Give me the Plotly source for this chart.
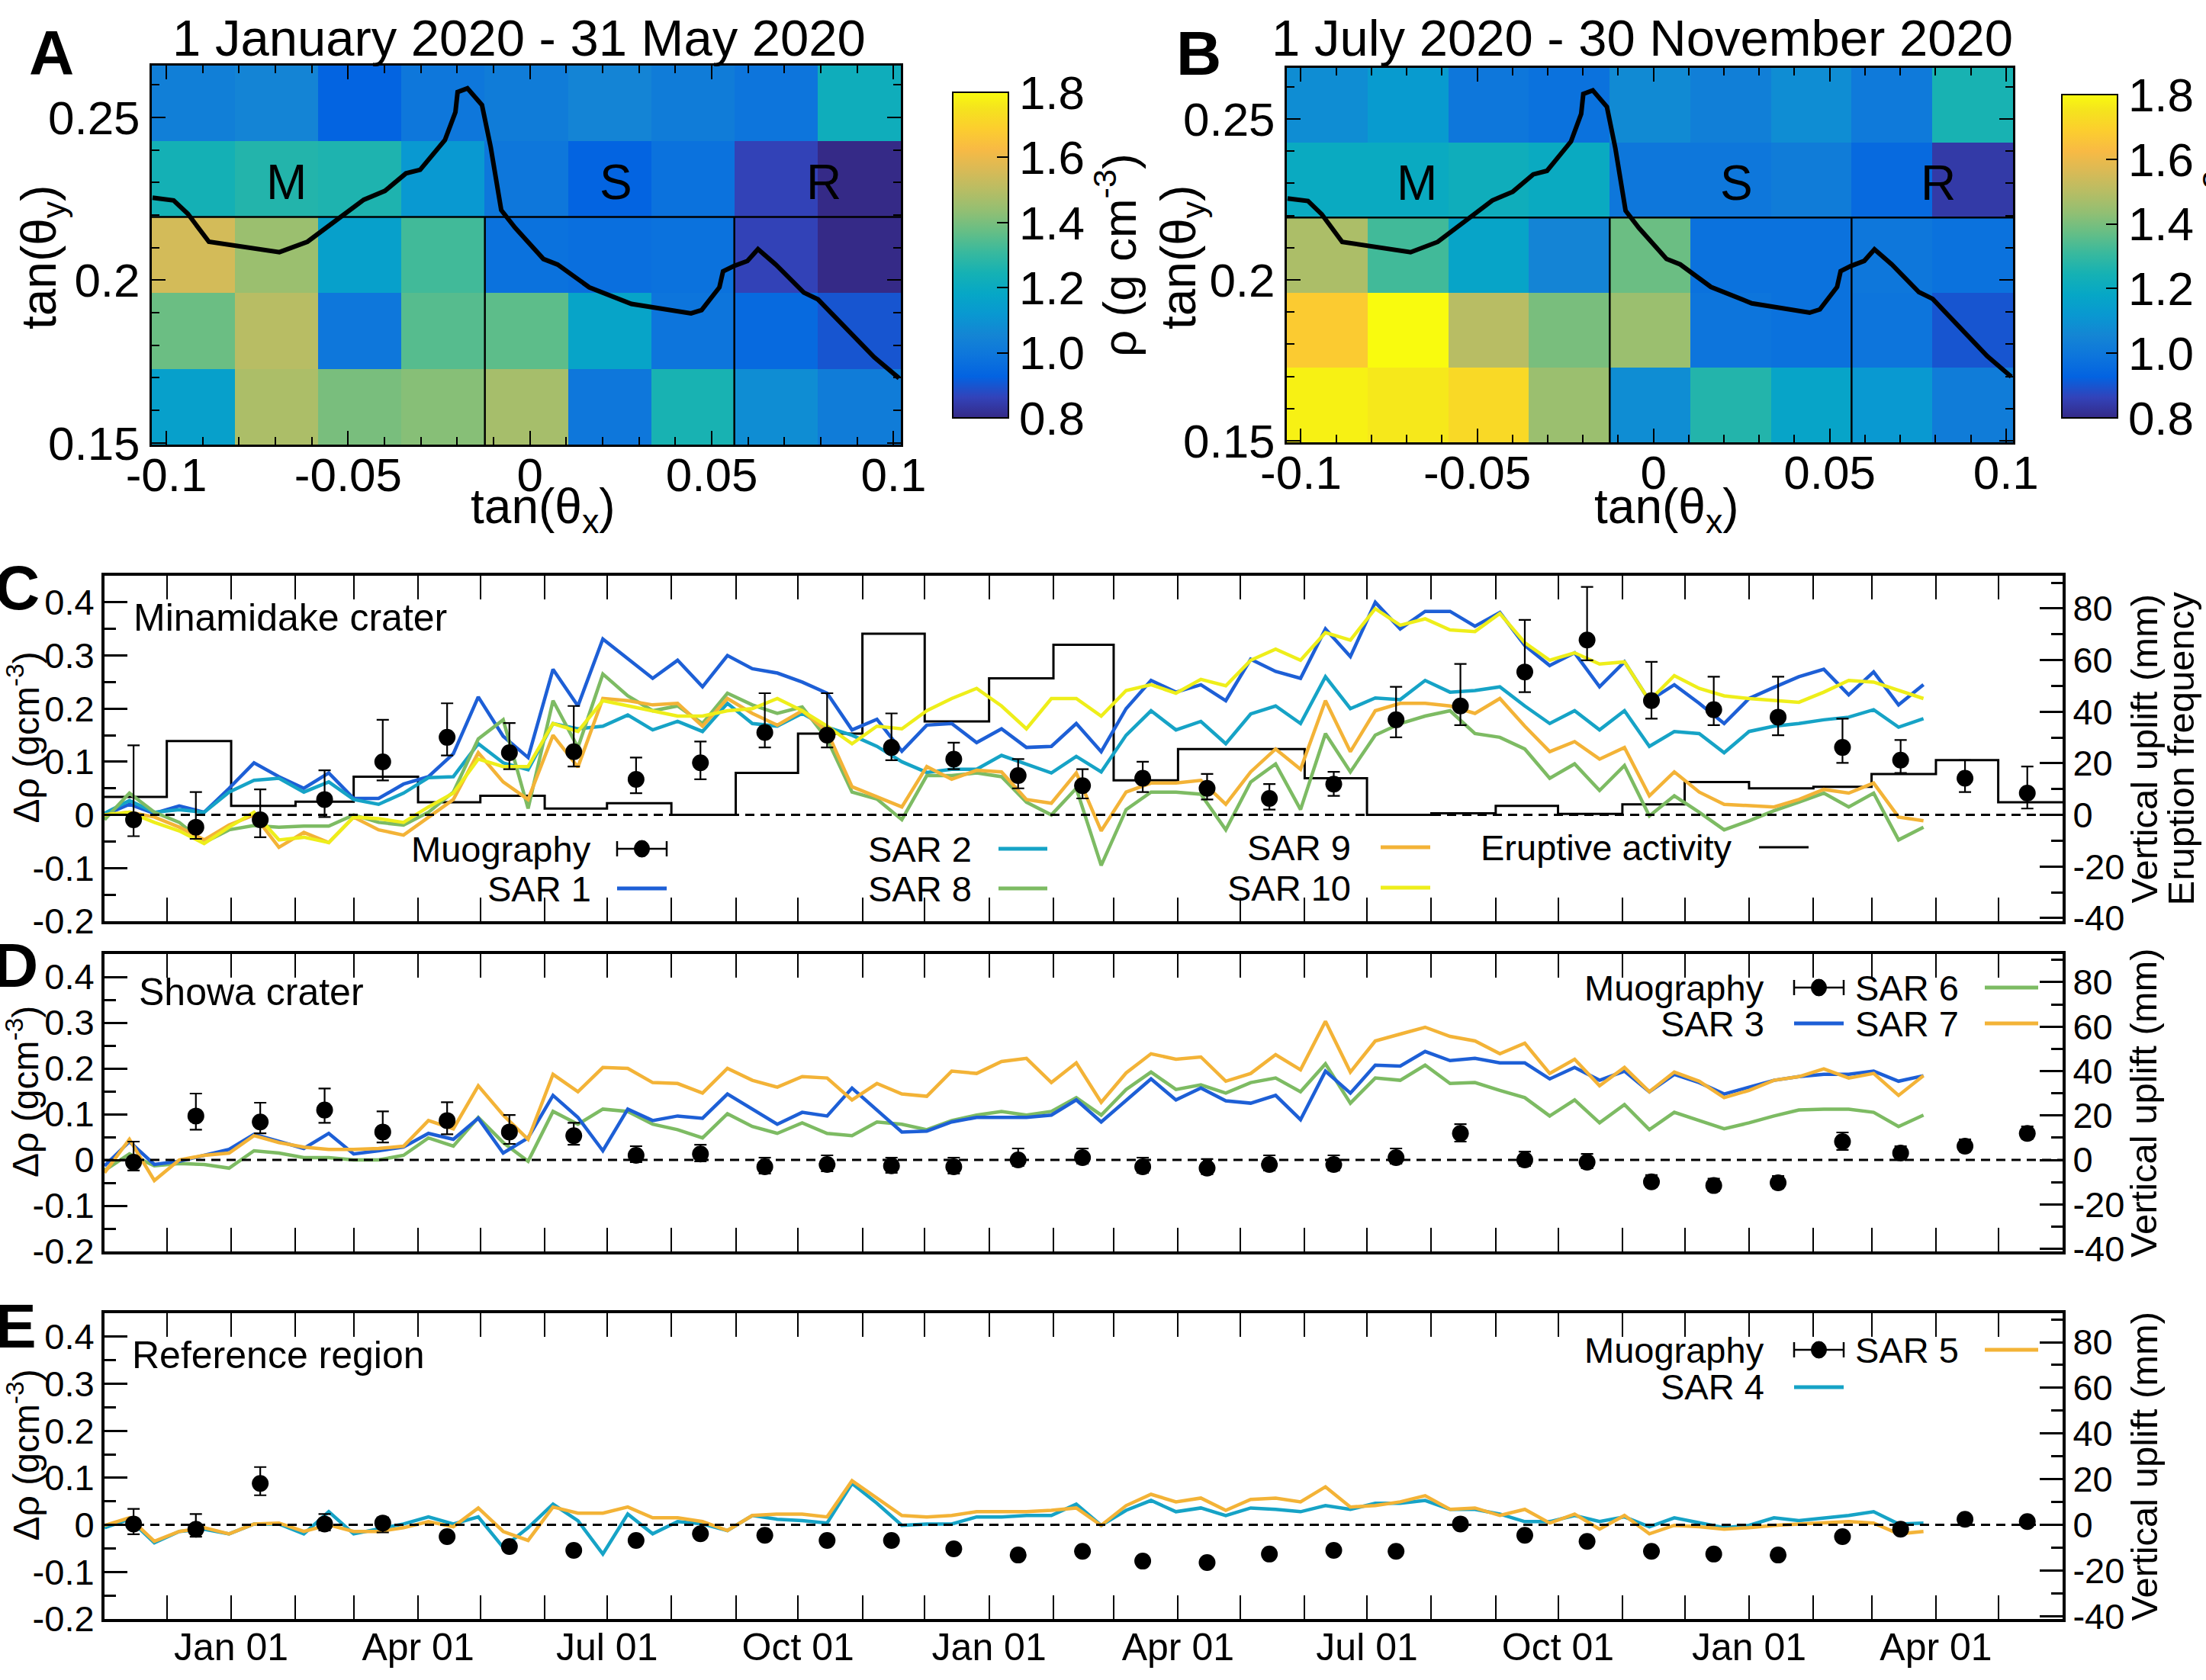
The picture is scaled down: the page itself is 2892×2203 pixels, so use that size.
import numpy as np
import pandas as pd
import plotly.graph_objects as go

W, H = 2892, 2203
FONT = "Liberation Sans, Arial, Helvetica, sans-serif"

# ---------------- Panels A / B : density maps ----------------
tanx_edges = [-0.104, -0.0811, -0.0582, -0.0353, -0.0124, 0.0104, 0.0333, 0.0562, 0.0791, 0.102]
tany_edges = [0.1495, 0.1728, 0.1961, 0.2194, 0.2426, 0.2659]
# rows listed from bottom (low tan(theta_y)) to top
rho_A = [
    [1.15, 1.48, 1.40, 1.42, 1.47, 1.00, 1.25, 1.08, 1.02],
    [1.38, 1.50, 1.00, 1.35, 1.36, 1.17, 0.99, 0.95, 0.90],
    [1.55, 1.45, 1.15, 1.32, 0.98, 0.97, 0.98, 0.86, 0.80],
    [1.24, 1.27, 1.26, 1.12, 1.00, 0.93, 0.98, 0.86, 0.80],
    [1.03, 1.05, 0.93, 1.00, 1.02, 1.05, 1.02, 0.99, 1.22],
]
rho_B = [
    [1.78, 1.76, 1.72, 1.45, 1.08, 1.27, 1.17, 1.12, 1.02],
    [1.68, 1.80, 1.50, 1.40, 1.45, 0.99, 0.98, 0.99, 0.90],
    [1.48, 1.32, 1.17, 1.05, 1.38, 0.98, 0.98, 1.00, 0.98],
    [1.20, 1.20, 1.22, 1.20, 1.00, 1.00, 1.02, 0.95, 0.84],
    [1.08, 1.13, 1.00, 0.98, 1.07, 1.03, 1.08, 1.01, 1.25],
]
topo_x = [-0.1038, -0.098, -0.0941, -0.0883, -0.0689, -0.0612, -0.0534, -0.0457, -0.0399, -0.0341,
          -0.0302, -0.0234, -0.0205, -0.0199, -0.0172, -0.0132, -0.0108, -0.0079, -0.0041, 0.0037,
          0.0076, 0.0163, 0.0279, 0.0443, 0.0472, 0.0521, 0.0531, 0.056, 0.0598, 0.0627,
          0.0676, 0.0753, 0.0792, 0.0889, 0.0947, 0.1015]
topo_y = [0.2253, 0.2245, 0.2204, 0.2118, 0.2086, 0.2118, 0.2183, 0.2247, 0.2274, 0.2328,
          0.2339, 0.2430, 0.2516, 0.2578, 0.2589, 0.2538, 0.2409, 0.2215, 0.2161, 0.2065,
          0.2048, 0.1978, 0.1927, 0.1898, 0.1908, 0.1978, 0.2027, 0.2043, 0.2059, 0.2095,
          0.2048, 0.1962, 0.1941, 0.1828, 0.1763, 0.1699]
region_names = ["M", "S", "R"]
region_x = [-0.067, 0.0236, 0.0808]
region_y = [0.230, 0.230, 0.230]
map_titles = ["1 January 2020 - 31 May 2020", "1 July 2020 - 30 November 2020"]
cbar_ticks = [0.8, 1.0, 1.2, 1.4, 1.6, 1.8]
cbar_text = ["0.8", "1.0", "1.2", "1.4", "1.6", "1.8"]

# ---------------- Panels C / D / E : time series ----------------
sar_dates = pd.date_range("2018-11-01", periods=74, freq="12D")
mu_dates = pd.date_range("2018-11-01", periods=31, freq="MS") + pd.Timedelta(days=14)
erupt_edges = pd.date_range("2018-11-01", periods=32, freq="MS")

sar1 = [0.0, 0.02, 0.003, 0.017, 0.005, 0.05, 0.098, 0.072, 0.05, 0.079, 0.031, 0.031, 0.058, 0.072, 0.115,
        0.222, 0.148, 0.108, 0.274, 0.205, 0.331, 0.295, 0.257, 0.291, 0.241, 0.30, 0.275, 0.267, 0.25, 0.229,
        0.16, 0.18, 0.12, 0.169, 0.172, 0.136, 0.162, 0.127, 0.129, 0.172, 0.119, 0.2, 0.253, 0.231, 0.245,
        0.215, 0.293, 0.27, 0.257, 0.35, 0.298, 0.40, 0.35, 0.383, 0.383, 0.355, 0.381, 0.319, 0.281, 0.305,
        0.241, 0.288, 0.215, 0.245, 0.21, 0.172, 0.219, 0.24, 0.26, 0.274, 0.226, 0.269, 0.207, 0.245]
sar2 = [0.003, 0.027, 0.005, 0.01, 0.005, 0.043, 0.065, 0.069, 0.043, 0.062, 0.029, 0.02, 0.041, 0.07, 0.072,
        0.134, 0.098, 0.085, 0.172, 0.162, 0.167, 0.188, 0.16, 0.176, 0.157, 0.21, 0.172, 0.167, 0.191, 0.165,
        0.15, 0.129, 0.1, 0.08, 0.086, 0.086, 0.112, 0.096, 0.079, 0.11, 0.081, 0.15, 0.196, 0.16, 0.176,
        0.134, 0.19, 0.205, 0.172, 0.26, 0.2, 0.22, 0.217, 0.253, 0.231, 0.234, 0.241, 0.205, 0.172, 0.196,
        0.16, 0.196, 0.129, 0.157, 0.153, 0.117, 0.157, 0.167, 0.172, 0.179, 0.184, 0.198, 0.165, 0.181]
sar8 = [-0.009, 0.041, 0.005, -0.014, -0.052, -0.028, -0.02, -0.023, -0.021, -0.021, 0.0, -0.014, -0.019, 0.005,
        0.043, 0.143, 0.179, 0.012, 0.215, 0.127, 0.265, 0.224, 0.196, 0.205, 0.172, 0.229, 0.207, 0.191, 0.203,
        0.143, 0.043, 0.03, -0.009, 0.074, 0.074, 0.079, 0.072, 0.024, 0.0, 0.05, -0.095, 0.01, 0.043, 0.043,
        0.039, -0.028, 0.062, 0.096, 0.01, 0.153, 0.081, 0.15, 0.172, 0.186, 0.196, 0.153, 0.146, 0.124, 0.069,
        0.096, 0.046, 0.093, -0.002, 0.036, 0.005, -0.028, -0.011, 0.008, 0.024, 0.041, 0.015, 0.041, -0.047,
        -0.023]
sar9 = [0.0, 0.005, -0.004, -0.023, -0.047, -0.019, 0.0, -0.061, -0.033, -0.052, -0.004, -0.028, -0.038, -0.004,
        0.029, 0.117, 0.062, 0.029, 0.15, 0.09, 0.219, 0.215, 0.207, 0.21, 0.167, 0.219, 0.191, 0.169, 0.196,
        0.157, 0.053, 0.034, 0.015, 0.091, 0.067, 0.084, 0.081, 0.029, 0.022, 0.079, -0.03, 0.043, 0.06, 0.06,
        0.065, 0.02, 0.081, 0.124, 0.086, 0.215, 0.119, 0.196, 0.21, 0.21, 0.205, 0.191, 0.219, 0.167, 0.119,
        0.138, 0.105, 0.127, 0.036, 0.081, 0.043, 0.02, 0.017, 0.015, 0.029, 0.048, 0.041, 0.06, -0.004, -0.011]
sar10 = [0.0, 0.005, -0.014, -0.03, -0.054, -0.023, 0.005, -0.047, -0.042, -0.052, -0.004, -0.007, -0.014, 0.015,
         0.041, 0.105, 0.091, 0.091, 0.172, 0.157, 0.215, 0.205, 0.196, 0.186, 0.186, 0.196, 0.2, 0.219, 0.196,
         0.167, 0.134, 0.167, 0.162, 0.196, 0.219, 0.238, 0.205, 0.162, 0.219, 0.219, 0.186, 0.234, 0.245, 0.229,
         0.255, 0.243, 0.291, 0.312, 0.291, 0.343, 0.329, 0.388, 0.357, 0.369, 0.348, 0.345, 0.379, 0.324, 0.291,
         0.305, 0.284, 0.288, 0.215, 0.262, 0.238, 0.224, 0.219, 0.215, 0.212, 0.231, 0.253, 0.25, 0.234, 0.219]
sar3 = [-0.013, 0.04, -0.01, -0.003, 0.01, 0.023, 0.056, 0.04, 0.025, 0.058, 0.013, 0.02, 0.028, 0.058, 0.045,
        0.091, 0.015, 0.048, 0.141, 0.093, 0.02, 0.111, 0.086, 0.096, 0.091, 0.144, 0.111, 0.078, 0.104, 0.096,
        0.157, 0.109, 0.061, 0.063, 0.083, 0.093, 0.093, 0.093, 0.098, 0.131, 0.083, 0.13, 0.177, 0.131, 0.157,
        0.129, 0.124, 0.141, 0.088, 0.194, 0.146, 0.207, 0.205, 0.237, 0.217, 0.222, 0.212, 0.212, 0.177, 0.202,
        0.174, 0.194, 0.149, 0.187, 0.169, 0.144, 0.159, 0.174, 0.182, 0.187, 0.187, 0.194, 0.172, 0.184]
sar6 = [-0.023, 0.013, -0.013, -0.008, -0.01, -0.018, 0.02, 0.015, 0.005, 0.005, 0.0, 0.0, 0.01, 0.048, 0.03,
        0.093, 0.038, -0.003, 0.106, 0.078, 0.111, 0.106, 0.078, 0.066, 0.048, 0.101, 0.073, 0.058, 0.081, 0.058,
        0.053, 0.083, 0.078, 0.066, 0.086, 0.098, 0.106, 0.098, 0.106, 0.136, 0.098, 0.154, 0.192, 0.154, 0.164,
        0.146, 0.169, 0.179, 0.149, 0.21, 0.124, 0.179, 0.174, 0.207, 0.167, 0.169, 0.152, 0.136, 0.096, 0.131,
        0.081, 0.121, 0.066, 0.104, 0.086, 0.068, 0.081, 0.096, 0.109, 0.111, 0.111, 0.104, 0.073, 0.098]
sar7 = [-0.028, 0.045, -0.045, 0.0, 0.01, 0.015, 0.053, 0.038, 0.028, 0.023, 0.023, 0.025, 0.03, 0.086, 0.068,
        0.162, 0.098, 0.045, 0.187, 0.149, 0.202, 0.2, 0.169, 0.167, 0.146, 0.2, 0.174, 0.159, 0.182, 0.179,
        0.131, 0.167, 0.144, 0.139, 0.194, 0.189, 0.215, 0.222, 0.169, 0.212, 0.126, 0.19, 0.232, 0.22, 0.225,
        0.172, 0.189, 0.23, 0.197, 0.303, 0.192, 0.26, 0.275, 0.29, 0.27, 0.26, 0.232, 0.255, 0.189, 0.22,
        0.162, 0.202, 0.149, 0.192, 0.172, 0.136, 0.152, 0.174, 0.182, 0.199, 0.179, 0.189, 0.141, 0.184]
sar4 = [-0.006, 0.012, -0.038, -0.014, -0.009, -0.019, 0.002, 0.002, -0.019, 0.028, -0.019, -0.009, 0.002, 0.017,
        0.002, 0.017, -0.048, -0.006, 0.044, 0.009, -0.062, 0.023, -0.019, 0.007, 0.002, -0.012, 0.02, 0.012,
        0.009, 0.004, 0.088, 0.046, -0.001, 0.002, 0.002, 0.017, 0.017, 0.02, 0.02, 0.044, -0.001, 0.031, 0.052,
        0.028, 0.036, 0.02, 0.036, 0.033, 0.028, 0.041, 0.033, 0.046, 0.046, 0.052, 0.033, 0.033, 0.023, 0.007,
        0.007, 0.02, 0.007, 0.017, -0.004, 0.015, 0.004, -0.006, -0.001, 0.015, 0.009, 0.015, 0.02, 0.028,
        0.002, 0.004]
sar5 = [-0.001, 0.015, -0.035, -0.014, -0.006, -0.019, 0.002, 0.004, -0.014, 0.0, -0.014, -0.014, -0.006, 0.007,
        -0.004, 0.036, -0.014, -0.033, 0.038, 0.025, 0.025, 0.038, 0.015, 0.015, 0.007, -0.012, 0.02, 0.023,
        0.023, 0.017, 0.094, 0.057, 0.02, 0.017, 0.02, 0.028, 0.028, 0.028, 0.031, 0.036, -0.001, 0.041, 0.065,
        0.049, 0.057, 0.031, 0.054, 0.057, 0.049, 0.081, 0.038, 0.041, 0.049, 0.062, 0.033, 0.036, 0.02, 0.033,
        0.004, 0.023, -0.009, 0.02, -0.019, -0.001, -0.004, -0.009, -0.006, -0.001, 0.002, 0.004, 0.007, 0.004,
        -0.019, -0.014]

mu_C = [-0.009, -0.023, -0.009, 0.029, 0.1, 0.146, 0.117, 0.119, 0.067, 0.098, 0.155, 0.15, 0.127, 0.105, 0.074,
        0.055, 0.069, 0.05, 0.031, 0.058, 0.179, 0.205, 0.269, 0.329, 0.215, 0.198, 0.184, 0.127, 0.103, 0.069, 0.041]
mu_C_up = [0.14, 0.066, 0.057, 0.055, 0.079, 0.064, 0.056, 0.086, 0.041, 0.04, 0.074, 0.079, 0.064, 0.031, 0.031,
           0.031, 0.031, 0.027, 0.027, 0.023, 0.062, 0.079, 0.098, 0.1, 0.073, 0.062, 0.076, 0.054, 0.038, 0.034, 0.05]
mu_C_dn = [0.031, 0.022, 0.033, 0.033, 0.035, 0.034, 0.031, 0.028, 0.026, 0.031, 0.028, 0.023, 0.024, 0.019, 0.024,
           0.024, 0.026, 0.021, 0.021, 0.022, 0.033, 0.036, 0.038, 0.038, 0.034, 0.029, 0.034, 0.029, 0.024, 0.026, 0.029]
mu_D = [-0.005, 0.096, 0.083, 0.109, 0.061, 0.086, 0.061, 0.053, 0.01, 0.013, -0.015, -0.01, -0.013, -0.015, 0.0,
        0.005, -0.015, -0.018, -0.01, -0.01, 0.005, 0.058, 0.0, -0.005, -0.048, -0.056, -0.05, 0.04, 0.015, 0.03, 0.058]
mu_D_up = [0.045, 0.049, 0.042, 0.047, 0.045, 0.04, 0.037, 0.028, 0.02, 0.02, 0.02, 0.02, 0.018, 0.02, 0.025,
           0.02, 0.02, 0.02, 0.02, 0.02, 0.02, 0.02, 0.018, 0.018, 0.015, 0.015, 0.015, 0.02, 0.015, 0.015, 0.015]
mu_D_dn = [0.018, 0.03, 0.025, 0.028, 0.023, 0.03, 0.026, 0.02, 0.015, 0.016, 0.015, 0.015, 0.015, 0.015, 0.013,
           0.013, 0.013, 0.013, 0.013, 0.013, 0.013, 0.018, 0.013, 0.013, 0.012, 0.012, 0.012, 0.018, 0.012, 0.012, 0.012]
mu_E = [0.002, -0.009, 0.088, 0.002, 0.004, -0.025, -0.046, -0.054, -0.033, -0.019, -0.022, -0.033, -0.033, -0.051,
        -0.064, -0.056, -0.077, -0.08, -0.062, -0.054, -0.056, 0.002, -0.022, -0.035, -0.056, -0.062, -0.064, -0.025,
        -0.009, 0.012, 0.007]
mu_E_up = [0.032, 0.032, 0.035, 0.021, 0.012, 0.01, 0.01, 0.01, 0.01, 0.01, 0.01, 0.01, 0.01, 0.01, 0.01, 0.01,
           0.01, 0.01, 0.01, 0.01, 0.01, 0.01, 0.01, 0.01, 0.01, 0.01, 0.01, 0.01, 0.01, 0.01, 0.01]
mu_E_dn = [0.022, 0.016, 0.025, 0.014, 0.02, 0.01, 0.01, 0.01, 0.01, 0.01, 0.01, 0.01, 0.01, 0.01, 0.01, 0.01,
           0.01, 0.01, 0.01, 0.01, 0.01, 0.01, 0.01, 0.01, 0.01, 0.01, 0.01, 0.01, 0.01, 0.01, 0.01]
erupt_vals = [0.034, 0.139, 0.017, 0.025, 0.072, 0.024, 0.036, 0.012, 0.022, 0.0, 0.079, 0.153, 0.341, 0.176, 0.257,
              0.32, 0.065, 0.124, 0.124, 0.069, 0.0, 0.003, 0.017, 0.002, 0.02, 0.062, 0.05, 0.053, 0.077, 0.103, 0.024]

drho_ticks = [-0.2, -0.1, 0.0, 0.1, 0.2, 0.3, 0.4]
drho_text = ["-0.2", "-0.1", "0", "0.1", "0.2", "0.3", "0.4"]
mm_ticks = [-40, -20, 0, 20, 40, 60, 80]
mm_text = ["-40", "-20", "0", "20", "40", "60", "80"]

# ---------------- styling ----------------
C_BLUE = "#1d5fd6"
C_TEAL = "#16a3c6"
C_GREEN = "#7dbb63"
C_ORANGE = "#f3b337"
C_YELLOW = "#eeee1a"

parula = [[0 / 63, "#352a87"], [4 / 63, "#3243ba"], [8 / 63, "#0363e1"], [12 / 63, "#0d75dc"],
          [16 / 63, "#1485d4"], [20 / 63, "#0998d1"], [24 / 63, "#06a7c6"], [28 / 63, "#15b1b4"],
          [32 / 63, "#38b99e"], [36 / 63, "#65be86"], [40 / 63, "#92bf73"], [44 / 63, "#b7bd64"],
          [48 / 63, "#d9ba56"], [52 / 63, "#f8ba44"], [56 / 63, "#fcce2e"], [60 / 63, "#f5e41d"],
          [63 / 63, "#f9fb0e"]]


def px(x):
    return x / W


def py(y):
    return 1 - y / H


fig = go.Figure()
annotations = []
shapes = []


def note(x, y, text, size, xanchor="center", yanchor="middle", angle=0, xref="paper", yref="paper", bold=False):
    annotations.append(dict(x=px(x) if xref == "paper" else x, y=py(y) if yref == "paper" else y,
                            xref=xref, yref=yref, xanchor=xanchor, yanchor=yanchor, textangle=angle,
                            text=f"<b>{text}</b>" if bold else text, showarrow=False,
                            font=dict(size=size, family=FONT, color="black")))


# ---- maps ----
map_boxes = [(199, 1181, 86, 583, 1239, 111, 558), (1687, 2639, 89, 580, 2693, 114, 558)]
for k, (rho, box) in enumerate(zip([rho_A, rho_B], map_boxes)):
    xa = "x" if k == 0 else "x2"
    ya = "y" if k == 0 else "y2"
    x0, x1, y0, y1, cbx, cby0, cby1 = box
    fig.add_trace(go.Heatmap(
        x=tanx_edges, y=tany_edges, z=rho, xaxis=xa, yaxis=ya,
        colorscale=parula, zmin=0.8, zmax=1.8, hoverinfo="skip",
        colorbar=dict(x=px(cbx), xanchor="left", y=py(cby1), yanchor="bottom",
                      len=(cby1 - cby0) / H, lenmode="fraction", thickness=73, thicknessmode="pixels",
                      outlinewidth=2, outlinecolor="black", tickvals=cbar_ticks, ticktext=cbar_text,
                      ticks="inside", ticklen=16, tickwidth=2, tickcolor="black",
                      tickfont=dict(size=62, family=FONT, color="black"),
                      title=dict(text="ρ (g cm<sup>-3</sup>)", side="right",
                                 font=dict(size=62, family=FONT, color="black"))),
    ))
    # region separators
    fig.add_trace(go.Scatter(x=[tanx_edges[0], tanx_edges[-1]], y=[tany_edges[3], tany_edges[3]],
                             mode="lines", line=dict(color="black", width=2.5), xaxis=xa, yaxis=ya,
                             showlegend=False, hoverinfo="skip"))
    for ci in (4, 7):
        fig.add_trace(go.Scatter(x=[tanx_edges[ci], tanx_edges[ci]], y=[tany_edges[0], tany_edges[3]],
                                 mode="lines", line=dict(color="black", width=2.5), xaxis=xa, yaxis=ya,
                                 showlegend=False, hoverinfo="skip"))
    fig.add_trace(go.Scatter(x=topo_x, y=topo_y, mode="lines", line=dict(color="black", width=6),
                             xaxis=xa, yaxis=ya, showlegend=False, hoverinfo="skip"))
    for nm, rx, ry in zip(region_names, region_x, region_y):
        note(rx, ry, nm, 64, xref=xa, yref=ya)
    axis_common = dict(showline=True, linewidth=3, linecolor="black", mirror="allticks", ticks="inside",
                       ticklen=18, tickwidth=2, tickcolor="black", showgrid=False, zeroline=False,
                       tickfont=dict(size=62, family=FONT, color="black"))
    fig.layout[("xaxis" if k == 0 else "xaxis2")] = dict(
        domain=[px(x0), px(x1)], anchor=ya, range=[tanx_edges[0], tanx_edges[-1]],
        tickvals=[-0.1, -0.05, 0, 0.05, 0.1], ticktext=["-0.1", "-0.05", "0", "0.05", "0.1"],
        ticklabelstandoff=-16,
        minor=dict(dtick=0.01, tick0=0, ticklen=10, tickwidth=2, tickcolor="black", ticks="inside"),
        **axis_common)
    fig.layout[("yaxis" if k == 0 else "yaxis2")] = dict(
        domain=[py(y1), py(y0)], anchor=xa, range=[tany_edges[0], tany_edges[-1]],
        tickvals=[0.15, 0.2, 0.25], ticktext=["0.15", "0.2", "0.25"],
        minor=dict(dtick=0.01, tick0=0, ticklen=10, tickwidth=2, tickcolor="black", ticks="inside"),
        **axis_common)
    note(680 if k == 0 else 2153, 50, map_titles[k], 67)
    note(712 if k == 0 else 2185, 668, "tan(θ<sub>x</sub>)", 64)
    note(55 if k == 0 else 1549, 337, "tan(θ<sub>y</sub>)", 64, angle=-90)

# ---- time series panels ----
panels = [
    dict(xa="x3", ya="y3", yr="y4", top=755, bot=1208, labels=False,
         sar=[(sar1, C_BLUE), (sar2, C_TEAL), (sar8, C_GREEN), (sar9, C_ORANGE), (sar10, C_YELLOW)],
         mu=(mu_C, mu_C_up, mu_C_dn), title="Minamidake crater", tpos=(173, 810)),
    dict(xa="x4", ya="y5", yr="y6", top=1251, bot=1641, labels=False,
         sar=[(sar6, C_GREEN), (sar3, C_BLUE), (sar7, C_ORANGE)],
         mu=(mu_D, mu_D_up, mu_D_dn), title="Showa crater", tpos=(180, 1301)),
    dict(xa="x5", ya="y7", yr="y8", top=1722, bot=2123, labels=True,
         sar=[(sar4, C_TEAL), (sar5, C_ORANGE)],
         mu=(mu_E, mu_E_up, mu_E_dn), title="Reference region", tpos=(171, 1777)),
]

for pi, p in enumerate(panels):
    if pi == 0:
        fig.add_trace(go.Scatter(x=list(erupt_edges), y=erupt_vals + [erupt_vals[-1]], mode="lines",
                                 line=dict(color="black", width=3, shape="hv"),
                                 xaxis=p["xa"], yaxis=p["ya"], showlegend=False, hoverinfo="skip"))
    for vals, col in p["sar"]:
        fig.add_trace(go.Scatter(x=sar_dates, y=vals, mode="lines", line=dict(color=col, width=4.5),
                                 xaxis=p["xa"], yaxis=p["ya"], showlegend=False, hoverinfo="skip"))
    mv, mup, mdn = p["mu"]
    fig.add_trace(go.Scatter(x=mu_dates, y=mv, mode="markers",
                             marker=dict(color="black", size=22, symbol="circle"),
                             error_y=dict(type="data", array=mup, arrayminus=mdn, symmetric=False,
                                          color="black", thickness=2.2, width=8),
                             xaxis=p["xa"], yaxis=p["ya"], showlegend=False, hoverinfo="skip"))
    # empty trace so that the right-hand (uplift) axis is registered and drawn
    fig.add_trace(go.Scatter(x=[], y=[], mode="lines", xaxis=p["xa"], yaxis=p["yr"],
                             showlegend=False, hoverinfo="skip"))
    xnum = p["xa"].replace("x", "xaxis")
    ynum = p["ya"].replace("y", "yaxis")
    rnum = p["yr"].replace("y", "yaxis")
    fig.layout[xnum] = dict(
        domain=[px(137), px(2704)], anchor=p["ya"], type="date", range=["2018-11-01", "2021-06-01"],
        tickmode="linear", tick0="2019-01-01", dtick="M3", tickformat="%b %d<br>%Y",
        ticks="inside", ticklen=31, tickwidth=2, tickcolor="black", mirror="allticks",
        showline=True, linewidth=4, linecolor="black", showgrid=False, zeroline=False,
        showticklabels=p["labels"], ticklabelstandoff=-10,
        tickfont=dict(size=50, family=FONT, color="black"),
        minor=dict(dtick="M1", tick0="2018-11-01", ticklen=16, tickwidth=2, tickcolor="black",
                   ticks="inside", showgrid=False))
    fig.layout[ynum] = dict(
        domain=[py(p["bot"]), py(p["top"])], anchor=p["xa"], range=[-0.2, 0.45],
        tickvals=drho_ticks, ticktext=drho_text, ticks="inside", ticklen=30, tickwidth=2.5,
        tickcolor="black", showline=True, linewidth=4, linecolor="black", showgrid=False, zeroline=False,
        tickfont=dict(size=47, family=FONT, color="black"),
        minor=dict(dtick=0.05, tick0=0, ticklen=15, tickwidth=2.5, tickcolor="black", ticks="inside"))
    fig.layout[rnum] = dict(
        overlaying=p["ya"], side="right", anchor=p["xa"], range=[-41.2, 92.7],
        tickvals=mm_ticks, ticktext=mm_text, ticks="inside", ticklen=30, tickwidth=2.5,
        tickcolor="black", showline=True, linewidth=4, linecolor="black", showgrid=False, zeroline=False,
        tickfont=dict(size=47, family=FONT, color="black"),
        minor=dict(dtick=10, tick0=0, ticklen=15, tickwidth=2.5, tickcolor="black", ticks="inside"))
    shapes.append(dict(type="line", xref=f"{p['xa']} domain", yref=p["ya"], x0=0, x1=1, y0=0, y1=0,
                       line=dict(color="black", width=3, dash="12px,8px"), layer="above"))
    note(p["tpos"][0], p["tpos"][1], p["title"], 50, xanchor="left")
    cy = (p["top"] + p["bot"]) / 2
    note(30, cy - 14, "Δρ (gcm<sup>-3</sup>)", 48, angle=-90)
    note(2810, cy, "Vertical uplift (mm)", 49, angle=-90)
    if pi == 0:
        note(2858, cy, "Eruption frequency", 49, angle=-90)

# ---- panel letters ----
for letter, (lx, ly) in zip("ABCDE", [(67, 69), (1572, 70), (22, 770), (20, 1265), (20, 1738)]):
    note(lx, ly, letter, 82, bold=True)


# ---- legends (drawn as keys) ----
def key_line(xr, y, label, color, x0, x1, width=5):
    note(xr, y, label, 47, xanchor="right")
    shapes.append(dict(type="line", xref="paper", yref="paper", x0=px(x0), x1=px(x1), y0=py(y), y1=py(y),
                       line=dict(color=color, width=width)))


def key_err(xr, y, x0, x1):
    note(xr, y, "Muography", 47, xanchor="right")
    shapes.append(dict(type="line", xref="paper", yref="paper", x0=px(x0), x1=px(x1), y0=py(y), y1=py(y),
                       line=dict(color="black", width=2.5)))
    for xx in (x0, x1):
        shapes.append(dict(type="line", xref="paper", yref="paper", x0=px(xx), x1=px(xx),
                           y0=py(y - 10), y1=py(y + 10), line=dict(color="black", width=2.5)))
    xc = (x0 + x1) / 2
    shapes.append(dict(type="circle", xref="paper", yref="paper", x0=px(xc - 10), x1=px(xc + 10),
                       y0=py(y + 11), y1=py(y - 11), fillcolor="black", line=dict(color="black", width=1)))


# panel C keys
key_err(777, 1113, 809, 874)
key_line(777, 1165, "SAR 1", C_BLUE, 809, 874)
key_line(1276, 1113, "SAR 2", C_TEAL, 1309, 1373)
key_line(1276, 1165, "SAR 8", C_GREEN, 1309, 1373)
key_line(1773, 1111, "SAR 9", C_ORANGE, 1810, 1875)
key_line(1773, 1164, "SAR 10", C_YELLOW, 1810, 1875)
key_line(2273, 1111, "Eruptive activity", "black", 2306, 2371, width=3)
# panel D keys
key_err(2315, 1295, 2352, 2417)
key_line(2570, 1295, "SAR 6", C_GREEN, 2602, 2672)
key_line(2315, 1342, "SAR 3", C_BLUE, 2352, 2417)
key_line(2570, 1342, "SAR 7", C_ORANGE, 2602, 2672)
# panel E keys
key_err(2315, 1770, 2352, 2417)
key_line(2570, 1770, "SAR 5", C_ORANGE, 2602, 2672)
key_line(2315, 1819, "SAR 4", C_TEAL, 2352, 2417)

fig.update_layout(
    width=W, height=H, margin=dict(l=0, r=0, t=0, b=0, autoexpand=False),
    paper_bgcolor="white", plot_bgcolor="white", showlegend=False,
    font=dict(family=FONT, color="black"),
    annotations=annotations, shapes=shapes,
)

fig.write_html("out.html", config={"displayModeBar": False},
               post_script="document.body.style.margin='0px';document.body.style.overflow='hidden';")
